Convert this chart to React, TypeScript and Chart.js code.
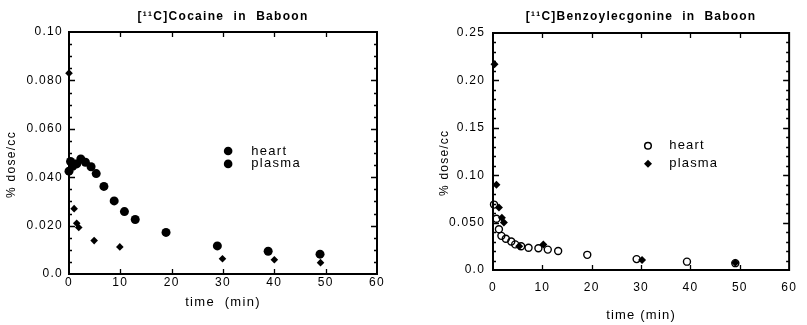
import React, { useEffect, useRef } from 'react';
import { Chart, registerables } from 'chart.js';

Chart.register(...registerables);

// ---------- Data: [11C]Cocaine in Baboon ----------
const cocaineHeartTime = [0, 0.3, 0.7, 1.0, 1.5, 2.3, 3.2, 4.3, 5.3, 6.8, 8.8, 10.8, 12.9, 18.9, 28.9, 38.8, 48.9];
const cocaineHeartValue = [0.0425, 0.0465, 0.0445, 0.0455, 0.0455, 0.0475, 0.0462, 0.0443, 0.0415, 0.0362, 0.0302, 0.0258, 0.0225, 0.0172, 0.0116, 0.0094, 0.0082];
const cocainePlasmaTime = [0, 1.0, 1.5, 1.9, 4.9, 9.9, 29.9, 40, 49];
const cocainePlasmaValue = [0.083, 0.027, 0.021, 0.0192, 0.0138, 0.0112, 0.0063, 0.0059, 0.0047];
const cocaineYTickLabels = ['0.0', '0.020', '0.040', '0.060', '0.080', '0.10'];

// ---------- Data: [11C]Benzoylecgonine in Baboon ----------
const bzeHeartTime = [0.2, 0.7, 1.2, 1.7, 2.6, 3.7, 4.5, 5.7, 7.2, 9.2, 11.1, 13.2, 19.1, 29.1, 39.3, 49.1];
const bzeHeartValue = [0.069, 0.054, 0.043, 0.036, 0.033, 0.030, 0.027, 0.025, 0.0235, 0.023, 0.0215, 0.020, 0.016, 0.0115, 0.0088, 0.0072];
const bzePlasmaTime = [0.3, 0.7, 1.2, 1.8, 2.2, 5.3, 10.2, 30.2, 49.1];
const bzePlasmaValue = [0.217, 0.090, 0.066, 0.055, 0.050, 0.025, 0.027, 0.0105, 0.0077];
const bzeYTickLabels = ['0.0', '0.050', '0.10', '0.15', '0.20', '0.25'];

const xTickLabels = ['0', '10', '20', '30', '40', '50', '60'];
const legendLabels = ['heart', 'plasma'];

const FONT = "'Liberation Sans', Arial, Helvetica, sans-serif";

const toPoints = (t: number[], v: number[]) => t.map((x, i) => ({ x, y: v[i] }));

const spacingPlugin = {
  id: 'spacing',
  beforeUpdate(chart: any) { chart.ctx.letterSpacing = chart.options.plugins.spacing?.value ?? '0px'; },
  beforeDraw(chart: any) { chart.ctx.letterSpacing = chart.options.plugins.spacing?.value ?? '0px'; },
};

const frameTicksPlugin = {
  id: 'frameTicks',
  afterDraw(chart: any, _args: any, opts: any) {
    const { ctx, chartArea: a, scales } = chart;
    const x = scales.x, y = scales.y;
    ctx.save();
    ctx.strokeStyle = '#000';
    ctx.lineWidth = 1.3;
    ctx.beginPath();
    for (let v = opts.yMinor; v < opts.yMax - 1e-9; v += opts.yMinor) {
      const py = Math.round(y.getPixelForValue(v)) + 0.5;
      const isMajor = Math.abs(v / opts.yMajor - Math.round(v / opts.yMajor)) < 1e-6;
      const len = isMajor ? 6 : 3;
      ctx.moveTo(a.left, py); ctx.lineTo(a.left + len, py);
      ctx.moveTo(a.right, py); ctx.lineTo(a.right - len, py);
    }
    for (let v = opts.xMajor; v < opts.xMax - 1e-9; v += opts.xMajor) {
      const px = Math.round(x.getPixelForValue(v)) + 0.5;
      ctx.moveTo(px, a.bottom); ctx.lineTo(px, a.bottom - 5);
      ctx.moveTo(px, a.top); ctx.lineTo(px, a.top + 5);
    }
    ctx.stroke();
    ctx.lineWidth = 2;
    ctx.strokeRect(a.left, a.top, a.right - a.left, a.bottom - a.top);
    ctx.restore();
  },
};

const inlineLegendPlugin = {
  id: 'inlineLegend',
  afterDatasetsDraw(chart: any, _args: any, opts: any) {
    const { ctx, scales } = chart;
    const x = scales.x, y = scales.y;
    ctx.save();
    ctx.fillStyle = '#000';
    ctx.strokeStyle = '#000';
    ctx.font = `${opts.fontSize}px ${FONT}`;
    ctx.textBaseline = 'middle';
    ctx.textAlign = 'left';
    opts.items.forEach((it: any) => {
      const mx = x.getPixelForValue(opts.markerX);
      const my = y.getPixelForValue(it.y);
      ctx.beginPath();
      if (it.marker === 'diamond') {
        const r = it.r;
        ctx.moveTo(mx, my - r); ctx.lineTo(mx + r, my); ctx.lineTo(mx, my + r); ctx.lineTo(mx - r, my); ctx.closePath();
        ctx.fill();
      } else if (it.marker === 'open') {
        ctx.lineWidth = 1.5;
        ctx.arc(mx, my, it.r, 0, Math.PI * 2);
        ctx.stroke();
      } else {
        ctx.arc(mx, my, it.r, 0, Math.PI * 2);
        ctx.fill();
      }
      ctx.fillText(it.label, x.getPixelForValue(opts.textX), my);
    });
    ctx.restore();
  },
};

function buildConfig(p: any): any {
  return {
    type: 'scatter',
    data: { datasets: p.datasets },
    plugins: [spacingPlugin, frameTicksPlugin, inlineLegendPlugin],
    options: {
      responsive: false,
      animation: false,
      events: [],
      layout: { padding: { left: 0, right: p.padRight, top: 0, bottom: 0 } },
      plugins: {
        legend: { display: false },
        tooltip: { enabled: false },
        spacing: { value: p.spacing },
        title: {
          display: true,
          text: p.title,
          fullSize: false,
          color: '#000',
          font: { family: FONT, size: p.titleSize, weight: 'bold' },
          padding: { top: p.titleTop, bottom: p.titleBottom },
        },
        frameTicks: { yMinor: p.yMinor, yMajor: p.yMajor, yMax: p.yMax, xMajor: 10, xMax: 60 },
        inlineLegend: p.legend,
      },
      scales: {
        x: {
          type: 'linear',
          min: 0,
          max: 60,
          grid: { display: false, drawTicks: false },
          border: { display: false },
          afterFit: (s: any) => { s.height = p.xHeight; },
          ticks: {
            stepSize: 10,
            color: '#000',
            padding: p.xTickPad,
            maxRotation: 0,
            font: { family: FONT, size: 12 },
            callback: (_v: any, i: number) => xTickLabels[i],
          },
          title: {
            display: true,
            text: p.xTitle,
            color: '#000',
            font: { family: FONT, size: 13 },
            padding: { top: 0, bottom: p.xTitleBottom },
          },
        },
        y: {
          type: 'linear',
          min: 0,
          max: p.yMax,
          grid: { display: false, drawTicks: false },
          border: { display: false },
          afterFit: (s: any) => { s.width = p.yWidth; },
          ticks: {
            stepSize: p.yMajor,
            color: '#000',
            padding: p.yTickPad,
            font: { family: FONT, size: 12 },
            callback: (_v: any, i: number) => p.yLabels[i],
          },
          title: {
            display: true,
            // trailing spaces shift the rotated title downward, as in the reference
            text: '% dose/cc     ',
            color: '#000',
            font: { family: FONT, size: 12 },
            padding: { top: p.yTitleTop, bottom: 0 },
          },
        },
      },
    },
  };
}

function ChartCanvas({ config, width, height, left }: any) {
  const ref = useRef<HTMLCanvasElement | null>(null);
  useEffect(() => {
    if (!ref.current) return;
    const chart = new Chart(ref.current, config);
    return () => chart.destroy();
  }, [config]);
  return (
    <canvas
      ref={ref}
      width={width}
      height={height}
      style={{ position: 'absolute', left, top: 0, width, height }}
    />
  );
}

const cocaineConfig = buildConfig({
  title: '[\u00B9\u00B9C]Cocaine  in  Baboon',
  titleSize: 12,
  titleTop: 9,
  titleBottom: 8.6,
  padRight: 23,
  spacing: '1.3px',
  yMax: 0.1,
  yMajor: 0.02,
  yMinor: 0.005,
  yLabels: cocaineYTickLabels,
  yWidth: 69,
  yTickPad: 6,
  yTitleTop: 4.8,
  xHeight: 51,
  xTickPad: 1,
  xTitle: 'time  (min)',
  xTitleBottom: 15,
  legend: {
    fontSize: 13,
    markerX: 31,
    textX: 35.5,
    items: [
      { label: legendLabels[0], y: 0.0508, marker: 'circle', r: 4.3 },
      { label: legendLabels[1], y: 0.0455, marker: 'circle', r: 4.3 },
    ],
  },
  datasets: [
    {
      label: legendLabels[0],
      data: toPoints(cocaineHeartTime, cocaineHeartValue),
      pointStyle: 'circle',
      pointRadius: 4.5,
      backgroundColor: '#000',
      borderColor: '#000',
      borderWidth: 0,
      clip: false,
    },
    {
      label: legendLabels[1],
      data: toPoints(cocainePlasmaTime, cocainePlasmaValue),
      pointStyle: 'rectRot',
      pointRadius: 3.8,
      backgroundColor: '#000',
      borderColor: '#000',
      borderWidth: 0,
      clip: false,
    },
  ],
});

const bzeConfig = buildConfig({
  title: '[\u00B9\u00B9C]Benzoylecgonine  in  Baboon',
  titleSize: 12,
  titleTop: 9,
  titleBottom: 9.6,
  padRight: 10,
  spacing: '1.2px',
  yMax: 0.25,
  yMajor: 0.05,
  yMinor: 0.01,
  yLabels: bzeYTickLabels,
  yWidth: 93,
  yTickPad: 8,
  yTitleTop: 37.8,
  xHeight: 55,
  xTickPad: 10,
  xTitle: 'time (min)',
  xTitleBottom: 2.2,
  legend: {
    fontSize: 13,
    markerX: 31.4,
    textX: 35.7,
    items: [
      { label: legendLabels[0], y: 0.131, marker: 'open', r: 3.3 },
      { label: legendLabels[1], y: 0.112, marker: 'diamond', r: 4 },
    ],
  },
  datasets: [
    {
      label: legendLabels[0],
      data: toPoints(bzeHeartTime, bzeHeartValue),
      pointStyle: 'circle',
      pointRadius: 3.5,
      backgroundColor: 'rgba(255,255,255,0)',
      borderColor: '#000',
      borderWidth: 1.4,
      clip: false,
    },
    {
      label: legendLabels[1],
      data: toPoints(bzePlasmaTime, bzePlasmaValue),
      pointStyle: 'rectRot',
      pointRadius: 4,
      backgroundColor: '#000',
      borderColor: '#000',
      borderWidth: 0,
      clip: false,
    },
  ],
});

export default function App() {
  return (
    <div style={{ position: 'fixed', left: 0, top: 0, width: 807, height: 325, background: '#fff', overflow: 'hidden' }}>
      <ChartCanvas config={cocaineConfig} width={400} height={325} left={0} />
      <ChartCanvas config={bzeConfig} width={407} height={325} left={400} />
    </div>
  );
}
